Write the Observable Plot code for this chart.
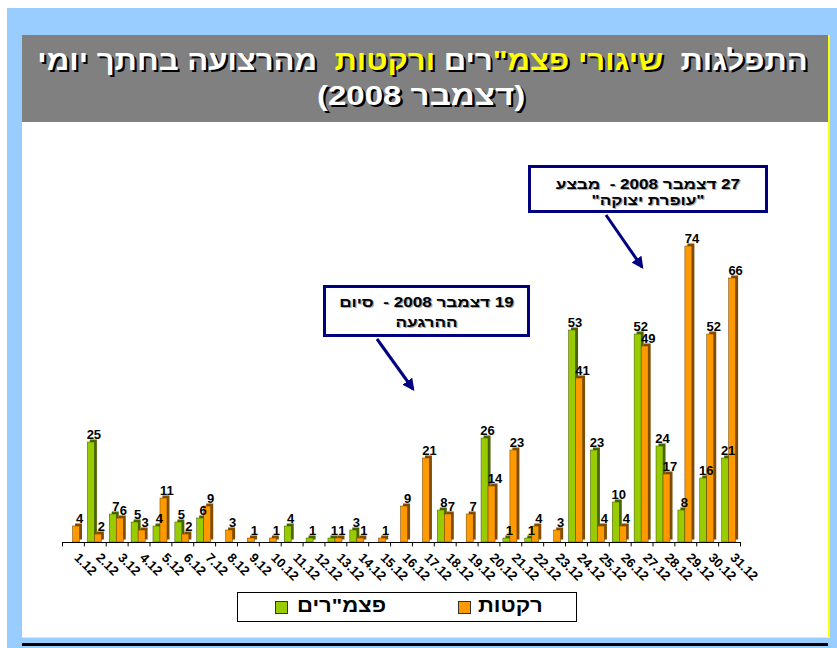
<!DOCTYPE html>
<html><head><meta charset="utf-8">
<script src="https://cdn.jsdelivr.net/npm/d3@7"></script>
<script src="https://cdn.jsdelivr.net/npm/@observablehq/plot@0.6"></script>
<style>
body{margin:0;width:837px;height:648px;position:relative;overflow:hidden;background:#fff;font-family:"Liberation Sans",Arial,sans-serif;}
.abs{position:absolute;}
#frame{left:7px;top:8px;width:830px;height:640px;background:#99CCFF;}
#content{left:22px;top:122px;width:806px;height:515px;background:#fff;}
#title{left:22px;top:35px;width:806px;height:87px;background:#808080;color:#fff;font-weight:bold;font-size:28px;text-align:center;text-shadow:2px 2px 0 #000;}
#title div{position:absolute;left:0;width:806px;text-align:center;white-space:nowrap;transform:scaleX(1.11);transform-origin:425px 0;}
.yl{color:#FFFF00;}
#vline{left:828px;top:35px;width:1.5px;height:603px;background:#FFFF00;}
#hline{left:22px;top:637px;width:807px;height:1px;background:#FFFF00;}
#bline{left:22px;top:643px;width:806px;height:3px;background:#000;}
#chart{left:22px;top:122px;}
.callout{border:3px solid #000080;background:#fff;font-weight:bold;font-size:14px;color:#000;text-align:center;text-shadow:1px 1px 0 #aaa;box-sizing:border-box;}
.callout div{position:absolute;left:0;width:100%;white-space:nowrap;transform:scaleX(1.22);}
#legend{left:237px;top:592px;width:340px;height:30px;border:1px solid #000;box-sizing:border-box;background:#fff;font-weight:bold;font-size:19px;}
.sw{position:absolute;width:11px;height:11px;border:1px solid #333;}
.lt{position:absolute;white-space:nowrap;transform:scaleX(1.16);transform-origin:0 0;}
</style></head>
<body>
<div id="frame" class="abs"></div>
<div id="content" class="abs"></div>
<div id="title" class="abs">
  <div dir="rtl" style="top:10px;">התפלגות&nbsp; <span class="yl">שיגורי פצמ"</span>רים <span class="yl">ורקטות</span>&nbsp; מהרצועה בחתך יומי</div>
  <div dir="rtl" style="top:45px;transform:scaleX(1.18);">(דצמבר 2008)</div>
</div>
<div id="vline" class="abs"></div>
<div id="hline" class="abs"></div>
<div id="bline" class="abs"></div>
<div id="chart" class="abs"></div>
<div class="abs callout" style="left:323px;top:285px;width:207px;height:52px;">
  <div dir="rtl" style="top:6px;">19 דצמבר 2008 -&nbsp; סיום</div>
  <div dir="rtl" style="top:26px;">ההרגעה</div>
</div>
<div class="abs callout" style="left:528px;top:165px;width:240px;height:48px;">
  <div dir="rtl" style="top:8px;">27 דצמבר 2008 -&nbsp; מבצע</div>
  <div dir="rtl" style="top:24px;">"עופרת יצוקה"</div>
</div>
<svg class="abs" style="left:0;top:0;" width="837" height="648" pointer-events="none">
  <defs><marker id="ah" viewBox="0 0 10 10" refX="8" refY="5" markerWidth="4" markerHeight="4" orient="auto"><path d="M0,0L10,5L0,10z" fill="#000080"/></marker></defs>
  <line x1="377" y1="339" x2="413" y2="389" stroke="#000080" stroke-width="3" marker-end="url(#ah)"/>
  <line x1="606" y1="215" x2="642" y2="267" stroke="#000080" stroke-width="3" marker-end="url(#ah)"/>
</svg>
<div id="legend" class="abs">
  <div class="sw" style="left:37px;top:8px;background:#99CC00;"></div>
  <div class="lt" dir="rtl" style="left:59px;top:2px;">פצמ"רים</div>
  <div class="sw" style="left:220px;top:8px;background:#FF9900;"></div>
  <div class="lt" dir="rtl" style="left:240px;top:2px;">רקטות</div>
</div>
<script>
const days = ["1.12","2.12","3.12","4.12","5.12","6.12","7.12","8.12","9.12","10.12","11.12","12.12","13.12","14.12","15.12","16.12","17.12","18.12","19.12","20.12","21.12","22.12","23.12","24.12","25.12","26.12","27.12","28.12","29.12","30.12","31.12"];
const mortars = [0,25,7,5,4,5,6,0,0,0,4,1,1,3,0,0,0,8,0,26,1,1,0,53,23,10,52,24,8,16,21];
const rockets = [4,2,6,3,11,2,9,3,1,1,0,0,1,1,1,9,21,7,7,14,23,4,3,41,4,4,49,17,74,52,66];
const seriesNames = ["פצמ\"רים","רקטות"];

const W = 806, H = 465, mL = 40, mR = 88, mT = 100, mB = 45;
const bw = (W - mL - mR) / days.length;

const rows = [];
days.forEach((d, i) => {
  rows.push({day: d, series: seriesNames[0], value: mortars[i]});
  rows.push({day: d, series: seriesNames[1], value: rockets[i]});
});
const nz = rows.filter(r => r.value > 0);
const G = nz.filter(r => r.series === seriesNames[0]);
const O = nz.filter(r => r.series === seriesNames[1]);

const gL = 3.5, gR = 10.5, oL = 10.5, oR = 17.5;
const depth = 2.5;

const chart = Plot.plot({
  width: W, height: H,
  marginLeft: mL, marginRight: mR, marginTop: mT, marginBottom: mB,
  style: {background: "transparent", fontFamily: "Liberation Sans, Arial, sans-serif"},
  x: {type: "band", domain: days, padding: 0, round: false, label: null},
  y: {domain: [0, 80], axis: null},
  marks: [
    Plot.barY(G, {x: "day", y: "value", insetLeft: gL, insetRight: bw - gR, fill: "#4A6400", dx: depth, dy: -depth}),
    Plot.barY(O, {x: "day", y: "value", insetLeft: oL, insetRight: bw - oR, fill: "#7F4C00", dx: depth, dy: -depth}),
    Plot.barY(G, {x: "day", y: "value", insetLeft: gL, insetRight: bw - gR, fill: "#99CC00", stroke: "#3d5200", strokeWidth: 0.5}),
    Plot.barY(O, {x: "day", y: "value", insetLeft: oL, insetRight: bw - oR, fill: "#FF9900", stroke: "#6b4000", strokeWidth: 0.5}),
    Plot.ruleY([0], {stroke: "#000", strokeWidth: 1}),
    Plot.ruleX(days, {x: d => d, y1: 0, y2: -1.1, dx: -bw / 2, stroke: "#000"}),
    Plot.ruleX([days[days.length - 1]], {x: d => d, y1: 0, y2: -1.1, dx: bw / 2, stroke: "#000"}),
    Plot.text(G, {x: "day", y: "value", text: d => String(d.value), dx: 9.5 - bw / 2, dy: -4, lineAnchor: "bottom", fontSize: 13, fontWeight: "bold", fill: "#000"}),
    Plot.text(O, {x: "day", y: "value", text: d => String(d.value), dx: 17 - bw / 2, dy: -4, lineAnchor: "bottom", fontSize: 13, fontWeight: "bold", fill: "#000"}),
    Plot.axisX({tickRotate: 45, tickSize: 0, tickPadding: 0, textAnchor: "start", lineAnchor: "middle", dy: 13, dx: 3, fontSize: 13, fontWeight: "bold", fill: "#000", label: null})
  ]
});
document.getElementById("chart").appendChild(chart);
</script>
</body></html>
